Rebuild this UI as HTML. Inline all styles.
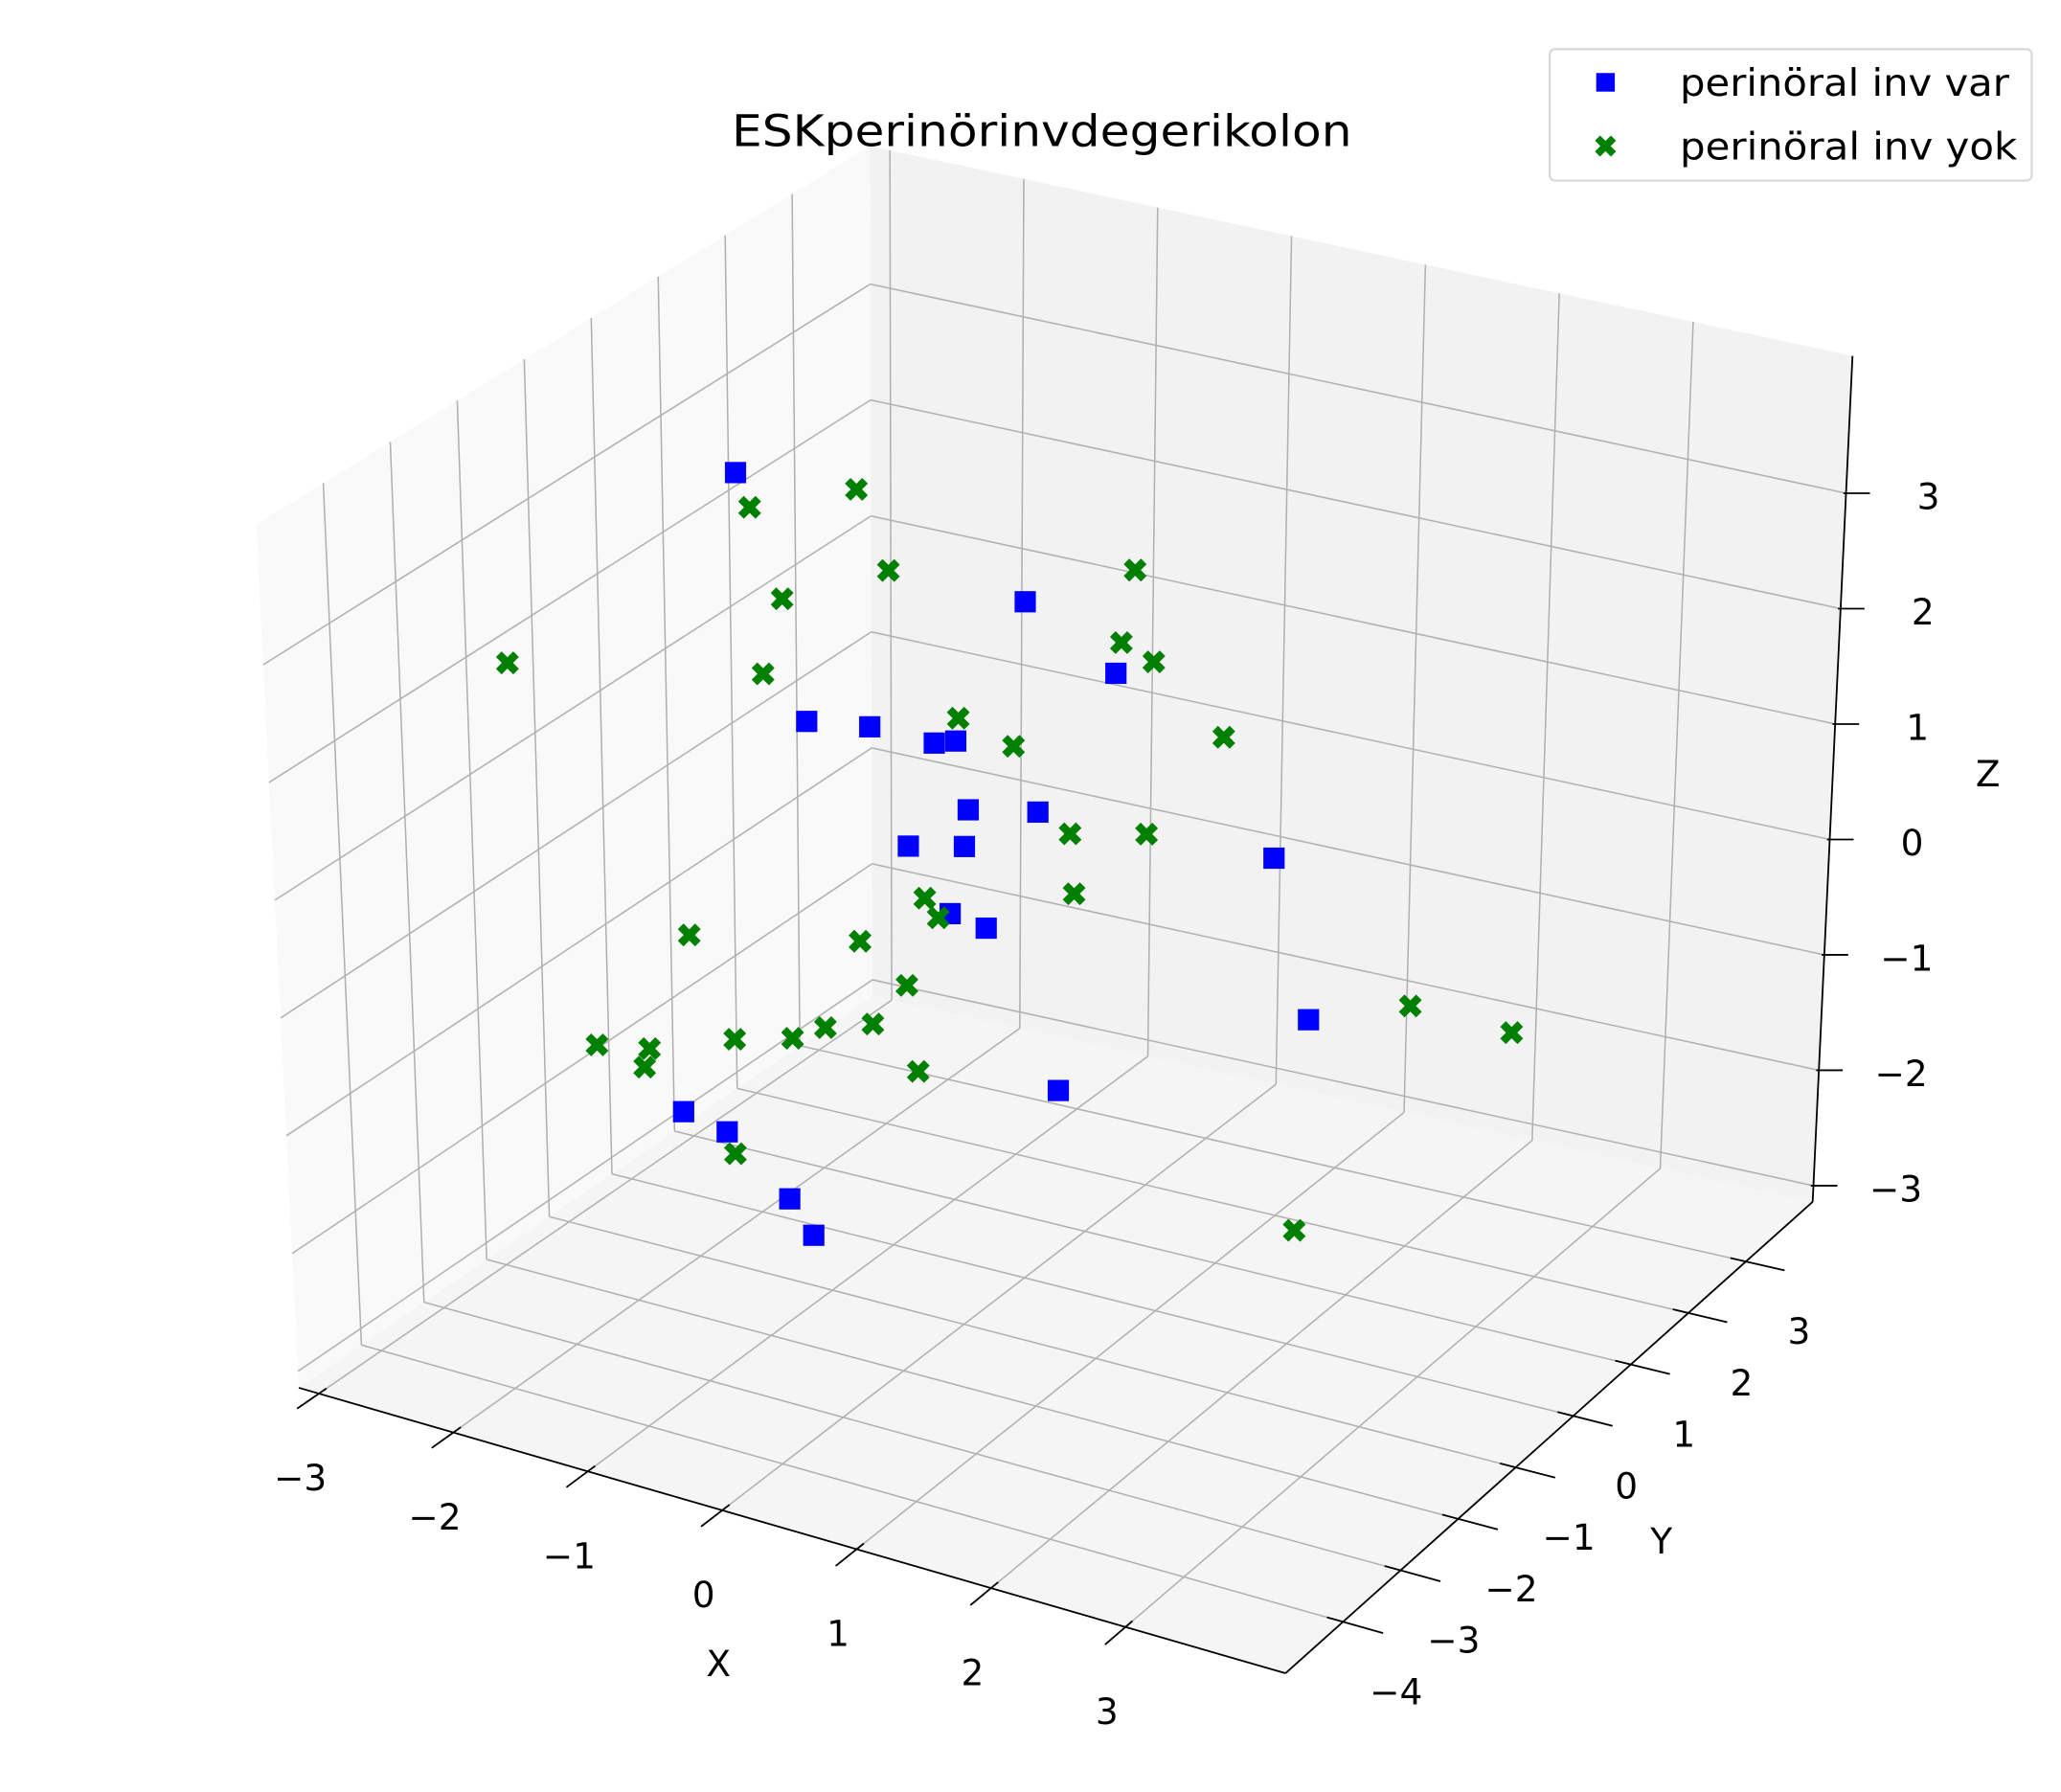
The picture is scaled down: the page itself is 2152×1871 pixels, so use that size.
<!DOCTYPE html>
<html><head><meta charset="utf-8"><style>
html,body{margin:0;padding:0;background:#fff}
svg{display:block}
text{font-family:"DejaVu Sans","Liberation Sans",sans-serif;fill:#000}
</style></head><body>
<svg id="chart" xmlns="http://www.w3.org/2000/svg" width="2152" height="1871" viewBox="0 0 1552 1349.4" preserveAspectRatio="none">
<g id="panes"></g>
<g id="grid"></g>
<g id="axes"></g>
<g id="marks"></g>
<text x="551" y="110" font-size="33" textLength="467" lengthAdjust="spacingAndGlyphs">ESKperinörinvdegerikolon</text>
<text x="541" y="1262" font-size="27" text-anchor="middle">X</text>
<text x="1251" y="1170" font-size="27" text-anchor="middle">Y</text>
<text x="1497" y="592" font-size="27" text-anchor="middle">Z</text>
<g>
<rect x="1167" y="37" width="363" height="99" rx="4" fill="#fff" stroke="#d6d6d6" stroke-width="1.5"/>
<g>
<rect x="1202" y="55" width="14" height="14" fill="#0000ff"/>
<text x="1265" y="72" font-size="28" textLength="248" lengthAdjust="spacingAndGlyphs">perinöral inv var</text>
</g>
<g>
<path d="M1203,104 L1215,116 M1215,104 L1203,116" stroke="#008000" stroke-width="5.5"/>
<text x="1265" y="120" font-size="28" textLength="254" lengthAdjust="spacingAndGlyphs">perinöral inv yok</text>
</g>
</g>
</svg>
<script>
// data
const varX = [-2.11,0.02,0.69,-1.61,-1.14,-0.66,-0.50,-0.41,0.11,-0.86,-0.44,1.87,-0.55,-0.28,2.14,0.26,-2.59,-2.26,-1.79,-1.61];
const varY = [0,0,0,0,0,0,0,0,0,0,0,0,0,0,0,0,0,0,0,0];
const varZ = [3.14,2.60,2.17,1.15,1.23,1.22,1.28,0.72,0.84,0.29,0.40,0.92,-0.20,-0.25,-0.37,-1.48,-2.45,-2.53,-2.97,-3.23];
const yokX = [-1.22,-2.01,-0.99,0.83,-1.78,0.73,0.97,-3.84,-1.93,-0.48,-0.07,1.49,0.35,0.92,-0.74,0.38,-0.64,-1.23,-2.52,-0.88,2.90,3.66,-3.24,-2.84,-2.88,-2.19,-1.75,-1.50,-1.14,-0.80,-2.20,2.05];
const yokY = [0,0,0,0,0,0,0,0,0,0,0,0,0,0,0,0,0,0,0,0,0,0,0,0,0,0,0,0,0,0,0,0];
const yokZ = [3.23,2.87,2.60,3.08,2.15,2.44,2.34,1.05,1.47,1.48,1.35,1.84,0.72,0.87,-0.12,0.22,-0.26,-0.62,-0.92,-0.90,-0.05,-0.07,-2.06,-1.98,-2.15,-1.72,-1.59,-1.43,-1.30,-1.61,-2.70,-2.17];
const xTicks = [-3,-2,-1,0,1,2,3];
const yTicks = [-4,-3,-2,-1,0,1,2,3];
const zTicks = [-3,-2,-1,0,1,2,3];
const xLim = [-3.15,4.19], yLim = [-5.0,4.16], zLim = [-3.14,4.19];

const NS = "http://www.w3.org/2000/svg";
const C = {
 "000":[225,1045],"100":[968,1260],"110":[1365,905],"010":[657,750],
 "001":[193,395],"101":[968,575],"111":[1395,268],"011":[655,110]
};
function proj(x,y,z){
  const u=(x-xLim[0])/(xLim[1]-xLim[0]), t=(y-yLim[0])/(yLim[1]-yLim[0]), w=(z-zLim[0])/(zLim[1]-zLim[0]);
  let px=0,py=0;
  for(const a of [0,1])for(const b of [0,1])for(const c of [0,1]){
    const wt=(a?u:1-u)*(b?t:1-t)*(c?w:1-w);
    const p=C[""+a+b+c]; px+=wt*p[0]; py+=wt*p[1];
  }
  return [px,py];
}
function mk(tag,attrs,parent){const e=document.createElementNS(NS,tag);for(const k in attrs)e.setAttribute(k,attrs[k]);parent.appendChild(e);return e;}
function line(p,q,stroke,sw,parent){return mk("line",{x1:p[0],y1:p[1],x2:q[0],y2:q[1],stroke:stroke,"stroke-width":sw},parent);}
function poly(pts,fill,parent){return mk("polygon",{points:pts.map(p=>p.join(",")).join(" "),fill:fill},parent);}

const panes=document.getElementById("panes"), grid=document.getElementById("grid"), axes=document.getElementById("axes"), marks=document.getElementById("marks");
const [X0,X1]=xLim,[Y0,Y1]=yLim,[Z0,Z1]=zLim;
let e;
e=poly([proj(X0,Y0,Z0),proj(X0,Y1,Z0),proj(X0,Y1,Z1),proj(X0,Y0,Z1)],"#f9f9f9",panes);


e=poly([proj(X0,Y1,Z0),proj(X1,Y1,Z0),proj(X1,Y1,Z1),proj(X0,Y1,Z1)],"#f2f2f2",panes);


e=poly([proj(X0,Y0,Z0),proj(X1,Y0,Z0),proj(X1,Y1,Z0),proj(X0,Y1,Z0)],"#f5f5f5",panes);



const gc="#b0b0b0", gw=1.1;
for(const x of xTicks){
  e=line(proj(x,Y0,Z0),proj(x,Y1,Z0),gc,gw,grid);
  
  
  e=line(proj(x,Y1,Z0),proj(x,Y1,Z1),gc,gw,grid);
  
  
}
for(const y of yTicks){
  e=line(proj(X0,y,Z0),proj(X1,y,Z0),gc,gw,grid);
  
  
  e=line(proj(X0,y,Z0),proj(X0,y,Z1),gc,gw,grid);
  
  
}
for(const z of zTicks){
  e=line(proj(X0,Y0,z),proj(X0,Y1,z),gc,gw,grid);
  
  
  e=line(proj(X0,Y1,z),proj(X1,Y1,z),gc,gw,grid);
  
  
}
e=line(proj(X0,Y0,Z0),proj(X1,Y0,Z0),"#000",1.3,axes);


e=line(proj(X1,Y0,Z0),proj(X1,Y1,Z0),"#000",1.3,axes);


e=line(proj(X1,Y1,Z0),proj(X1,Y1,Z1),"#000",1.3,axes);


function lbl(v){return v<0?"\u2212"+Math.abs(v):""+v;}
function tickText(p,v,name){
  const t=mk("text",{x:p[0],y:p[1]+10,"font-size":27,"text-anchor":"middle"},axes);
  t.textContent=lbl(v);
  
  
}
for(const x of xTicks){
  const p=proj(x,Y0,Z0);
  e=line(proj(x,Y0+0.12,Z0),proj(x,Y0-0.35,Z0),"#000",1.3,axes);
  
  
  tickText([p[0]-14,p[1]+63],x,'x-tick-label');
}
for(const y of yTicks){
  const p=proj(X1,y,Z0);
  e=line(proj(X1-0.12,y,Z0),proj(X1+0.3,y,Z0),"#000",1.3,axes);
  
  
  tickText([p[0]+40,p[1]+52],y,'y-tick-label');
}
for(const z of zTicks){
  const p=proj(X1,Y1,z);
  e=line([p[0]-2,p[1]],[p[0]+18,p[1]],"#000",1.3,axes);
  
  
  tickText([p[0]+62,p[1]+2],z,'z-tick-label');
}
for(let i=0;i<varX.length;i++){
  const p=proj(varX[i],varY[i],varZ[i]);
  const r=mk("rect",{x:p[0]-8,y:p[1]-8,width:16,height:16,fill:"#0000ff"},marks);
  
  
}
for(let i=0;i<yokX.length;i++){
  const p=proj(yokX[i],yokY[i],yokZ[i]);
  const d=6.5;
  const pth=mk("path",{d:`M${p[0]-d},${p[1]-d} L${p[0]+d},${p[1]+d} M${p[0]+d},${p[1]-d} L${p[0]-d},${p[1]+d}`,stroke:"#008000","stroke-width":6,fill:"none"},marks);
  
  
}
</script>
</body></html>
